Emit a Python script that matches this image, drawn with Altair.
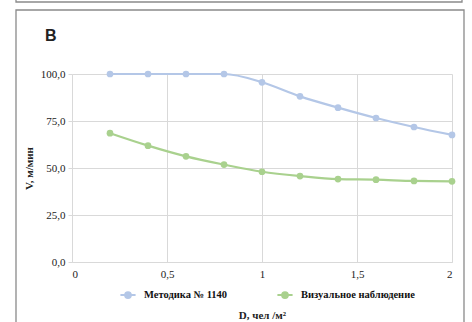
import altair as alt
import pandas as pd

density = [0.2, 0.4, 0.6, 0.8, 1.0, 1.2, 1.4, 1.6, 1.8, 2.0]
method_1140 = [100.0, 100.0, 100.0, 100.0, 95.6, 88.1, 82.1, 76.6, 71.8, 67.6]
visual_obs = [68.5, 61.9, 56.2, 51.8, 48.0, 45.7, 44.1, 43.8, 43.1, 42.9]
series_names = ["Методика № 1140", "Визуальное наблюдение"]
series_colors = ["#b4c7e7", "#a9d18e"]
x_ticks = [0, 0.5, 1, 1.5, 2]
y_ticks = [0, 25, 50, 75, 100]
panel_label = "В"

rows = []
for name, vals in zip(series_names, [method_1140, visual_obs]):
    for d, v in zip(density, vals):
        rows.append({"D": d, "V": v, "series": name})
df = pd.DataFrame(rows)

serif = "'Liberation Serif', 'Times New Roman', serif"
sym = "M-1,0L1,0M-0.38,0a0.38,0.38 0 1,0 0.76,0a0.38,0.38 0 1,0 -0.76,0"

color = alt.Color(
    "series:N",
    scale=alt.Scale(domain=series_names, range=series_colors),
    sort=series_names,
    legend=alt.Legend(
        title=None,
        orient="none",
        direction="horizontal",
        legendX=47,
        legendY=212,
        symbolType=sym,
        symbolSize=230,
        symbolStrokeWidth=2,
        labelFont=serif,
        labelFontSize=10.5,
        labelFontWeight="bold",
        labelColor="#111",
        columnPadding=45,
        labelOffset=7,
    ),
)

base = alt.Chart(df).encode(
    x=alt.X("D:Q", scale=alt.Scale(domain=[0, 2], nice=False),
            axis=alt.Axis(values=x_ticks, title="D, чел /м²",
                          labelExpr="replace(toString(datum.value), '.', ',')",
                          titlePadding=30)),
    y=alt.Y("V:Q", scale=alt.Scale(domain=[0, 100], nice=False),
            axis=alt.Axis(values=y_ticks, title="V, м/мин",
                          labelExpr="replace(format(datum.value, '.1f'), '.', ',')",
                          titlePadding=6)),
    color=color,
)

lines = base.mark_line(strokeWidth=2.2, interpolate="monotone")
points = base.mark_point(filled=True, size=45, opacity=1)

frame = alt.Chart(alt.Data(values=[{}])).mark_rect(
    fill=None, stroke="#8a8a8a", strokeWidth=1.3
).encode(x=alt.value(-56), x2=alt.value(392), y=alt.value(-64), y2=alt.value(300))

prev_frame = alt.Chart(alt.Data(values=[{}])).mark_rect(
    fill=None, stroke="#8a8a8a", strokeWidth=1.3
).encode(x=alt.value(-56), x2=alt.value(390), y=alt.value(-110), y2=alt.value(-72))

label = alt.Chart(alt.Data(values=[{"t": panel_label}])).mark_text(
    font="'Liberation Sans', Arial, sans-serif", fontSize=16, fontWeight="bold",
    color="#222", align="left", baseline="alphabetic"
).encode(x=alt.value(-27), y=alt.value(-33), text="t:N")

chart = alt.layer(frame, prev_frame, label, lines, points).properties(
    width=380,
    height=188,
    autosize=alt.AutoSizeParams(type="none"),
    padding={"left": 72, "top": 74, "right": 20, "bottom": 60},
).configure_view(stroke=None).configure_axis(
    labelFont=serif, labelFontSize=11, labelColor="#222",
    titleFont=serif, titleFontSize=11, titleFontWeight="bold", titleColor="#222",
    gridColor="#d9d9d9", domainColor="#d9d9d9", tickColor="#d9d9d9",
    tickSize=4, labelPadding=3,
).configure_axisX(tickSize=0, labelPadding=6, domain=True).configure_axisY(domain=False)

chart.save("out.html", embed_options={"renderer": "svg", "actions": False})
